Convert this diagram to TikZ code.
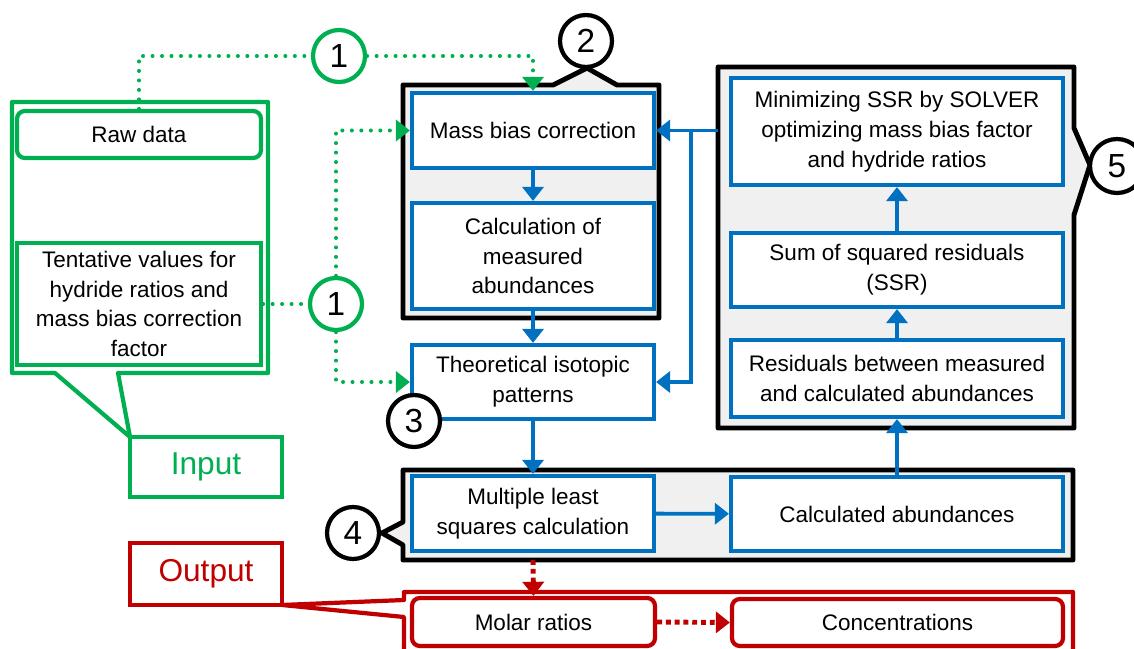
\documentclass[tikz,border=0pt]{standalone}
\usepackage{fontspec}
\setmainfont{Liberation Sans}
\usetikzlibrary{arrows.meta}
\definecolor{cblue}{HTML}{0070C0}
\definecolor{cgreen}{HTML}{00B050}
\definecolor{cred}{HTML}{C00000}
\definecolor{cgray}{HTML}{F0F0F0}
\tikzset{
  txt/.style={font=\fontsize{12.8}{17}\selectfont},
  sz/.style args={#1x#2}{minimum width=#1*0.02cm, minimum height=#2*0.02cm},
  bbox/.style={draw=cblue, line width=2.4pt, fill=white, inner sep=0pt, align=center, txt},
  gbox/.style={draw=cgreen, line width=2.4pt, fill=white, inner sep=0pt, align=center, txt},
  rbox/.style={draw=cred, line width=2.4pt, fill=white, inner sep=0pt, align=center, txt, rounded corners=4.5pt},
  frame/.style={draw=black, line width=2.8pt, fill=cgray, line join=round},
  numc/.style={circle, draw, line width=2.4pt, fill=white, minimum size=1.04cm, inner sep=0pt,
    font=\fontsize{19}{19}\selectfont},
  tip/.style={-{Triangle[width=12pt,length=8pt]}},
  flow/.style={draw=cblue, line width=2.2pt, tip},
  gflow/.style={draw=cgreen, line width=2.3pt, line cap=round, dash pattern=on 0pt off 5.4pt},
  garrow/.style={gflow, tip},
  rarrow/.style={draw=cred, line width=2.8pt, dash pattern=on 2.8pt off 2.2pt, tip},
  tag/.style={draw, line width=2.4pt, fill=white, inner sep=0pt, font=\fontsize{18}{18}\selectfont}
}
\begin{document}
\begin{tikzpicture}[x=0.02cm, y=-0.02cm]
\useasboundingbox (0,0) rectangle (1134,649);

% grouping frames with call-out tails
\path[frame] (403,85) -- (553,85) -- (587,68) -- (617,85) -- (659,85) -- (659,318) -- (403,318) -- cycle;
\path[frame] (718,67) -- (1074,67) -- (1074,128) -- (1090,165) -- (1074,215) -- (1074,428) -- (718,428) -- cycle;
\path[frame] (403,470) -- (1073,470) -- (1073,560) -- (403,560) -- (403,545) -- (382,533) -- (403,522) -- cycle;
\coordinate (f5w) at (718,130);
\coordinate (fbx) at (691,130);
\coordinate (f4s) at (533,560);

% input side
\draw[cgreen, line width=2.4pt, line join=round] (12,102) -- (268,102) -- (268,373) -- (118,373)
  -- (130,437) -- (55,373) -- (12,373) -- cycle;
\node[gbox, rounded corners=4.5pt, sz=244x47] (rawdata) at (139,134.5) {Raw data};
\node[gbox, sz=244x122] (tentative) at (139,304) {Tentative values for\\hydride ratios and\\mass bias correction\\factor};
\node[tag, draw=cgreen, text=cgreen, sz=152x60] (inlabel) at (206,467) {Input};

% calculation steps
\node[bbox, sz=242x75] (massbias) at (533,130.5) {Mass bias correction};
\node[bbox, sz=242x106] (calcmeas) at (533,256) {Calculation of\\measured\\abundances};
\node[bbox, sz=242x74] (theo) at (533,382) {Theoretical isotopic\\patterns};
\node[bbox, sz=242x75] (mlsq) at (533,513.5) {Multiple least\\squares calculation};
\node[bbox, sz=332x74] (calcab) at (897,514) {Calculated abundances};
\node[bbox, sz=332x77] (resid) at (897,378.5) {Residuals between measured\\and calculated abundances};
\node[bbox, sz=332x74] (ssr) at (897,270) {Sum of squared residuals\\(SSR)};
\node[bbox, sz=332x107] (minssr) at (897,131.5) {Minimizing SSR by SOLVER\\optimizing mass bias factor\\and hydride ratios};

% output side
\node[tag, draw=cred, text=cred, sz=152x62] (outlabel) at (206,574) {Output};
\draw[cred, line width=2.4pt, line join=round] (404,600) -- (404,592) -- (1073,592) -- (1073,670)
  -- (404,670) -- (404,617) -- (282,605) -- cycle;
\node[rbox, sz=243x48] (molar) at (533.5,622) {Molar ratios};
\node[rbox, sz=331x47] (conc) at (897.5,622.5) {Concentrations};

% blue flow
\draw[flow] (massbias) -- (calcmeas);
\draw[flow] (calcmeas) -- (theo);
\draw[flow] (theo) -- (mlsq);
\draw[flow] (mlsq) -- (calcab);
\draw[flow] (calcab) -- (resid);
\draw[flow] (resid) -- (ssr);
\draw[flow] (ssr) -- (minssr);
\draw[flow] (f5w |- massbias.east) -- (massbias.east);
\draw[flow] (fbx |- massbias.east) -- (fbx |- theo.east) -- (theo.east);

% step markers
\node[numc, draw=cgreen] (c1a) at (339,56) {1};
\node[numc, draw=cgreen] (c1b) at (336,304) {1};
\node[numc] (c2) at (586,41) {2};
\node[numc] (c3) at (414,421) {3};
\node[numc] (c4) at (353,533) {4};
\node[numc, minimum size=1.08cm] (c5) at (1117,166) {5};

% green input links
\draw[gflow] (rawdata.north) |- (c1a);
\draw[garrow] (c1a) -| (massbias.north);
\draw[gflow] (tentative.east) -- (c1b);
\draw[garrow] (c1b) |- (massbias.west);
\draw[garrow] (c1b) |- (theo.west);

% red output links
\draw[rarrow] (f4s) -- (molar.north);
\draw[rarrow] (molar.east) -- (conc.west);
\end{tikzpicture}
\end{document}
